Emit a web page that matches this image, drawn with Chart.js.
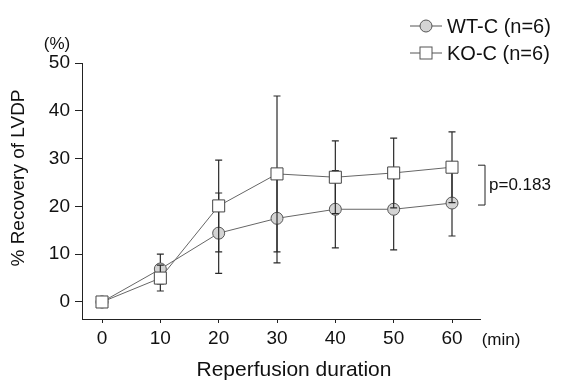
<!DOCTYPE html>
<html>
<head>
<meta charset="utf-8">
<script src="https://cdn.jsdelivr.net/npm/chart.js@4/dist/chart.umd.min.js"></script>
<style>
    body { margin: 0; background: #fff; }
    #wrap { width: 566px; height: 383px; }
</style>
</head>
<body>
<div id="wrap"><canvas id="recoveryChart" width="566" height="383"></canvas></div>
<script>
// values
const minutes = [0, 10, 20, 30, 40, 50, 60];
const wtMean = [0, 6.9, 14.4, 17.5, 19.4, 19.4, 20.7];
const wtSd = [0, 3.1, 8.4, 9.3, 8.1, 8.5, 6.9];
const koMean = [0, 5.0, 20.1, 26.8, 26.1, 27.0, 28.2];
const koSd = [0, 2.7, 9.6, 16.3, 7.6, 7.3, 7.4];
const xTicks = [0, 10, 20, 30, 40, 50, 60];
const yTicks = [0, 10, 20, 30, 40, 50];
const seriesLabels = ['WT-C (n=6)', 'KO-C (n=6)'];
const pValueText = 'p=0.183';

const toPoints = (means) => minutes.map((m, i) => ({ x: m, y: means[i] }));
const sdBySeries = [wtSd, koSd];

Chart.defaults.font.family = "'Liberation Sans', Arial, sans-serif";
Chart.defaults.color = '#111';

// error bars drawn before each dataset so its own marker sits on top
const errorBars = {
    id: 'errorBars',
    beforeDatasetDraw(chart, args) {
        const ctx = chart.ctx;
        const yScale = chart.scales.y;
        const sd = sdBySeries[args.index];
        const means = chart.data.datasets[args.index].data;
        ctx.save();
        ctx.strokeStyle = '#2a2a2a';
        ctx.lineWidth = 1.2;
        args.meta.data.forEach((pt, i) => {
            if (!sd[i]) return;
            const top = yScale.getPixelForValue(means[i].y + sd[i]);
            const bot = yScale.getPixelForValue(means[i].y - sd[i]);
            ctx.beginPath();
            ctx.moveTo(pt.x, top);
            ctx.lineTo(pt.x, bot);
            ctx.moveTo(pt.x - 3.5, top);
            ctx.lineTo(pt.x + 3.5, top);
            ctx.moveTo(pt.x - 3.5, bot);
            ctx.lineTo(pt.x + 3.5, bot);
            ctx.stroke();
        });
        ctx.restore();
    }
};

// legend, units and p-value bracket
const annotations = {
    id: 'annotations',
    afterDraw(chart) {
        const ctx = chart.ctx;
        ctx.save();
        ctx.fillStyle = '#111';
        ctx.textBaseline = 'middle';

        // legend
        const rows = [26, 53];
        rows.forEach((ly, i) => {
            ctx.strokeStyle = '#555';
            ctx.lineWidth = 1;
            ctx.beginPath();
            ctx.moveTo(410, ly);
            ctx.lineTo(442, ly);
            ctx.stroke();
            if (i === 0) {
                ctx.fillStyle = '#d4d4d4';
                ctx.beginPath();
                ctx.arc(426, ly, 6, 0, Math.PI * 2);
                ctx.fill();
                ctx.stroke();
            } else {
                ctx.fillStyle = '#fff';
                ctx.fillRect(420, ly - 6, 12, 12);
                ctx.strokeRect(420, ly - 6, 12, 12);
            }
            ctx.fillStyle = '#111';
            ctx.font = "20px 'Liberation Sans', Arial, sans-serif";
            ctx.textAlign = 'left';
            ctx.fillText(seriesLabels[i], 447, ly + 1);
        });

        // unit labels
        ctx.font = "17px 'Liberation Sans', Arial, sans-serif";
        ctx.textAlign = 'center';
        ctx.fillText('(%)', 57, 44);
        ctx.fillText('(min)', 501, 340);

        // axis titles
        ctx.font = "21px 'Liberation Sans', Arial, sans-serif";
        ctx.fillText('Reperfusion duration', 294, 370);
        ctx.font = "19px 'Liberation Sans', Arial, sans-serif";
        ctx.save();
        ctx.translate(19, 178);
        ctx.rotate(-Math.PI / 2);
        ctx.fillText('% Recovery of LVDP', 0, 0);
        ctx.restore();

        // p-value bracket between the last points
        const yScale = chart.scales.y;
        const last = minutes.length - 1;
        const bTop = yScale.getPixelForValue(koMean[last]) - 2;
        const bBot = yScale.getPixelForValue(wtMean[last]) + 2;
        ctx.strokeStyle = '#222';
        ctx.lineWidth = 1;
        ctx.beginPath();
        ctx.moveTo(478, bTop);
        ctx.lineTo(485, bTop);
        ctx.lineTo(485, bBot);
        ctx.lineTo(478, bBot);
        ctx.stroke();
        ctx.font = "17px 'Liberation Sans', Arial, sans-serif";
        ctx.textAlign = 'left';
        ctx.fillText(pValueText, 489, (bTop + bBot) / 2);
        ctx.restore();
    }
};

const ctx = document.getElementById('recoveryChart').getContext('2d');
const recoveryChart = new Chart(ctx, {
    type: 'line',
    data: {
        datasets: [
            {
                label: seriesLabels[0],
                data: toPoints(wtMean),
                order: 2,
                borderColor: '#666',
                borderWidth: 1,
                pointStyle: 'circle',
                pointRadius: 6,
                pointBackgroundColor: '#d4d4d4',
                pointBorderColor: '#555',
                pointBorderWidth: 1,
                tension: 0,
            },
            {
                label: seriesLabels[1],
                data: toPoints(koMean),
                order: 1,
                borderColor: '#666',
                borderWidth: 1,
                pointStyle: 'rect',
                pointRadius: 8.5,
                pointBackgroundColor: '#fff',
                pointBorderColor: '#444',
                pointBorderWidth: 1,
                tension: 0,
            },
        ],
    },
    options: {
        responsive: false,
        animation: false,
        layout: { padding: { left: 0, right: 86, top: 63, bottom: 0 } },
        plugins: {
            legend: { display: false },
            tooltip: { enabled: false },
        },
        scales: {
            x: {
                type: 'linear',
                min: -3.43,
                max: 64.8,
                afterBuildTicks: (s) => { s.ticks = xTicks.map(v => ({ value: v })); },
                afterFit: (s) => { s.height = 64; },
                ticks: { font: { size: 19 }, padding: 4, color: '#111' },
                grid: { drawOnChartArea: false, tickLength: 4, color: '#222' },
                border: { color: '#222', width: 1 },
            },
            y: {
                min: -3.56,
                max: 50,
                afterBuildTicks: (s) => { s.ticks = yTicks.map(v => ({ value: v })); },
                afterFit: (s) => { s.width = 82; },
                ticks: { font: { size: 19 }, padding: 5, color: '#111' },
                grid: { drawOnChartArea: false, tickLength: 7, color: '#222' },
                border: { color: '#222', width: 1 },
            },
        },
    },
    plugins: [errorBars, annotations],
});
</script>
</body>
</html>
